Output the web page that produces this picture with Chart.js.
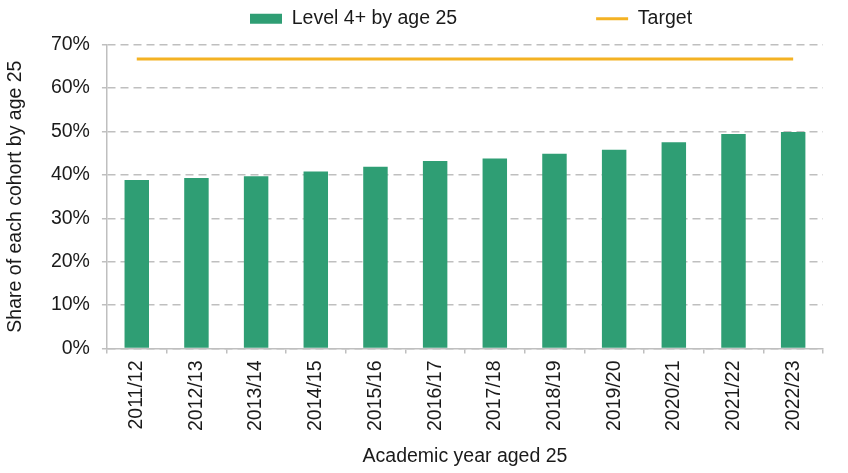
<!DOCTYPE html>
<html>
<head>
<meta charset="utf-8">
<script src="https://cdn.jsdelivr.net/npm/chart.js@4.4.1/dist/chart.umd.min.js"></script>
<style>
  body { margin: 0; background: #fff; }
  #wrap { width: 848px; height: 473px; }
</style>
</head>
<body>
<div id="wrap"><canvas id="chart" width="848" height="473"></canvas></div>
<script>
const years = ['2011/12', '2012/13', '2013/14', '2014/15', '2015/16', '2016/17',
               '2017/18', '2018/19', '2019/20', '2020/21', '2021/22', '2022/23'];
const level4 = [38.8, 39.3, 39.7, 40.8, 41.9, 43.2, 43.8, 44.9, 45.8, 47.5, 49.4, 49.9];
const target = [66.7, 66.7, 66.7, 66.7, 66.7, 66.7, 66.7, 66.7, 66.7, 66.7, 66.7, 66.7];
const yTicks = [0, 10, 20, 30, 40, 50, 60, 70];

const green = '#2f9e74';
const amber = '#f4b223';
const gridGrey = '#bfbfbf';
const textCol = '#1a1a1a';
const font = { family: '"Liberation Sans", Arial, sans-serif', size: 19.5 };

// fixed legend height and start so it sits where the reference has it
const legendPlace = {
    id: 'legendPlace',
    beforeInit(chart) {
        const fit = chart.legend.fit;
        chart.legend.fit = function () {
            fit.call(this);
            this.height = 44.7;
        };
    },
    afterLayout(chart) {
        chart.legend.left = 241;
    }
};

const ctx = document.getElementById('chart').getContext('2d');
new Chart(ctx, {
    type: 'bar',
    data: {
        labels: years,
        datasets: [
            {
                label: 'Level 4+ by age 25',
                data: level4,
                backgroundColor: green,
                borderWidth: 0,
                barPercentage: 0.41,
                categoryPercentage: 1,
                pointStyle: 'rect'
            },
            {
                type: 'line',
                label: 'Target',
                data: target,
                borderColor: amber,
                backgroundColor: amber,
                borderWidth: 3,
                pointRadius: 0,
                pointStyle: 'line',
                fill: false
            }
        ]
    },
    options: {
        responsive: false,
        animation: false,
        layout: { padding: { left: 0, right: 25, top: 0, bottom: 0 } },
        plugins: {
            tooltip: { enabled: false },
            legend: {
                position: 'top',
                align: 'start',
                labels: {
                    usePointStyle: true,
                    pointStyleWidth: 32,
                    boxHeight: 10,
                    padding: 9,
                    color: textCol,
                    font: font,
                    generateLabels(chart) {
                        const items = Chart.defaults.plugins.legend.labels.generateLabels(chart);
                        items.forEach(item => {
                            if (item.datasetIndex === 0) item.text = item.text + ' '.repeat(24);
                            if (item.datasetIndex === 1) item.lineWidth = 3;
                        });
                        return items;
                    }
                }
            }
        },
        scales: {
            x: {
                grid: {
                    display: true,
                    offset: true,
                    drawOnChartArea: false,
                    drawTicks: true,
                    tickLength: 5,
                    color: gridGrey,
                    lineWidth: 1.5
                },
                border: { color: gridGrey, width: 1.5 },
                ticks: {
                    autoSkip: false,
                    minRotation: 90,
                    maxRotation: 90,
                    padding: 7,
                    color: textCol,
                    font: font
                },
                title: {
                    display: true,
                    text: 'Academic year aged 25',
                    color: textCol,
                    font: font,
                    padding: { top: 6.6, bottom: 5 }
                }
            },
            y: {
                min: yTicks[0],
                max: yTicks[yTicks.length - 1],
                afterBuildTicks(axis) {
                    axis.ticks = yTicks.map(v => ({ value: v }));
                },
                grid: {
                    color: gridGrey,
                    lineWidth: 1.5,
                    tickLength: 5
                },
                border: { color: gridGrey, width: 1.5, dash: [8, 5] },
                ticks: {
                    padding: 12,
                    color: textCol,
                    font: font,
                    callback: v => v + '%'
                },
                title: {
                    display: true,
                    text: 'Share of each cohort by age 25',
                    color: textCol,
                    font: font,
                    padding: { top: 4, bottom: 11.5 }
                }
            }
        }
    },
    plugins: [legendPlace]
});
</script>
</body>
</html>
